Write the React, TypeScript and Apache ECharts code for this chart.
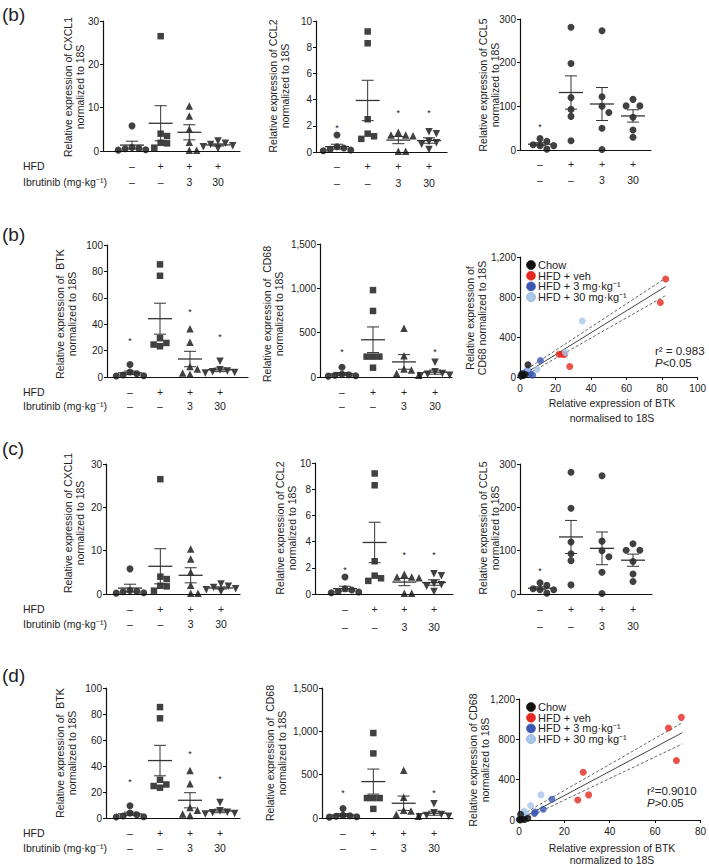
import React, { useEffect, useRef } from "react";
import * as echarts from "echarts";

const FONT = "'Liberation Sans', Arial, Helvetica, sans-serif";
const INK = "#222";

// ---------- category labels ----------
const HFD_ROW = ["–", "+", "+", "+"];
const IBR_ROW = ["–", "–", "3", "30"];

// ---------- dot-plot data (Chow, HFD, HFD+3, HFD+30) ----------
const CXCL1 = [
  [5.8, 0.3, 0.5, 0.8, 0.2, 0.6],
  [26.5, 4.0, 1.9, 3.45, 1.76, 0.77],
  [10.4, 8.1, 5.0, 2.0, 0.2, 0.2],
  [2.3, 1.8, 1.5, 1.2, 1.0, 0.6],
];
const CXCL1_STARS = [null, null, null, null];

const CCL2 = [
  [1.3, 0.4, 0.2, 0.3, 0.1, 0.15],
  [9.2, 8.3, 2.5, 1.4, 1.0, 1.2],
  [1.5, 1.3, 1.25, 1.3, 0.05, 0.05],
  [1.55, 1.4, 0.8, 0.7, 0.6, 0.2],
];
const CCL2_STARS = [1.95, null, 3.1, 3.1];

const CCL5 = [
  [26, 20, 12, 10, 10, 2],
  [281, 198, 120, 93, 77, 21],
  [273, 122, 100, 86, 50, 1],
  [116, 101, 101, 75, 46, 29],
];
const CCL5_STARS = [57, null, null, null];

const BTK = [
  [9.4, 3.8, 2.5, 1.0, 0.8, 1.5],
  [85.3, 76.7, 29.4, 25.8, 24.6, 23.3],
  [36.5, 26.3, 8, 6, 3, 2],
  [12, 5.5, 4.5, 4, 3.5, 3],
];
const BTK_STARS = [29, null, 50.5, 31.5];

const CD68 = [
  [110, 30, 20, 15, 10, 25],
  [980, 745, 230, 230, 230, 105],
  [551, 240, 90, 80, 20, 40],
  [165, 60, 40, 30, 20, 15],
];
const CD68_STARS = [310, null, null, 310];

// ---------- correlation scatter data ([BTK, CD68]) ----------
const SC_NAMES = ["Chow", "HFD + veh", "HFD + 3 mg·kg⁻¹", "HFD + 30 mg·kg⁻¹"];
const SC_COLORS = ["#111111", "#e5281f", "#3a58b3", "#a9c7ea"];

const SC1_CHOW = [[4.5, 122], [0.5, 10], [1.5, 20], [2, 15], [3, 25], [1, 30]];
const SC1_VEH = [[82, 980], [79, 745], [22, 228], [23.5, 228], [25, 225], [28, 105]];
const SC1_LOW = [[11.5, 165], [1.8, 34], [3.2, 50], [4.4, 67], [5.8, 34], [7.1, 17]];
const SC1_HIGH = [[35, 560], [25.5, 245], [9.5, 75], [4.4, 84], [2, 20], [1, 10]];
const SC1_FIT = [[1, 15], [82, 905]];
const SC1_HI = [[1.5, 50], [82, 990]];
const SC1_LO = [[2, 5], [82, 815]];

const SC2_CHOW = [[0.7, 56], [3.9, 17], [0.2, 5], [1.5, 8], [0.5, 0], [2.5, 5]];
const SC2_VEH = [[71.6, 1018], [65.9, 912], [69.4, 590], [28.3, 474], [30.7, 249], [25.9, 199]];
const SC2_LOW = [[14.5, 206], [10.7, 106], [6.8, 66], [7.2, 80], [2.5, 33], [1.8, 20]];
const SC2_HIGH = [[9.7, 249], [5.1, 143], [2.2, 90], [2.8, 66], [0.3, 10], [1.5, 40]];
const SC2_FIT = [[1, 15], [72, 866]];
const SC2_HI = [[1.5, 55], [72, 965]];
const SC2_LO = [[2, 5], [72, 754]];

// ---------- layout ----------
const SYMBOLS = ["circle", "rect", "triangle", "triangle"];
const ALL_CIRCLES = ["circle", "circle", "circle", "circle"];
const SYM_ROT = [0, 0, 0, 180];
const SYM_SIZE = [7, 6.5, 7.5, 7.5];

type Dot = {
  data: number[][]; stars: (number | null)[]; yMax: number; yInt: number; title: string;
  axisX: number; top: number; bottom: number; end: number; g1: number; g4: number;
  lm: number; lh: number; tx: number; ty: number; header?: boolean; circles?: boolean;
};

const DOTS: Dot[] = [
  { data: CXCL1, stars: CXCL1_STARS, yMax: 30, yInt: 10, title: "Relative expression of CXCL1\nnormalized to 18S",
    axisX: 103, top: 21, bottom: 151, end: 240, g1: 132, g4: 218, lm: 7, lh: 16, tx: 74, ty: 87, header: true },
  { data: CCL2, stars: CCL2_STARS, yMax: 10, yInt: 2, title: "Relative expression of CCL2\nnormalized to 18S",
    axisX: 316, top: 21, bottom: 152, end: 447, g1: 337, g4: 429, lm: 5.5, lh: 17, tx: 279, ty: 86 },
  { data: CCL5, stars: CCL5_STARS, yMax: 300, yInt: 100, title: "Relative expression of CCL5\nnormalized to 18S",
    axisX: 520, top: 19, bottom: 150, end: 651, g1: 540, g4: 633, lm: 6, lh: 16, tx: 489, ty: 85, circles: true },
  { data: BTK, stars: BTK_STARS, yMax: 100, yInt: 20, title: "Relative expression of  BTK\nnormalized to 18S",
    axisX: 107, top: 245, bottom: 377, end: 248, g1: 130, g4: 220, lm: 8, lh: 14, tx: 66, ty: 314, header: true },
  { data: CD68, stars: CD68_STARS, yMax: 1500, yInt: 500, title: "Relative expression of  CD68\nnormalized to 18S",
    axisX: 320, top: 244, bottom: 377, end: 452, g1: 342, g4: 435, lm: 8, lh: 14, tx: 273, ty: 314 },
  { data: CXCL1, stars: CXCL1_STARS, yMax: 30, yInt: 10, title: "Relative expression of CXCL1\nnormalized to 18S",
    axisX: 106, top: 464, bottom: 594, end: 240, g1: 130, g4: 221, lm: 7.5, lh: 15, tx: 74, ty: 523, header: true },
  { data: CCL2, stars: CCL2_STARS, yMax: 10, yInt: 2, title: "Relative expression of CCL2\nnormalized to 18S",
    axisX: 315, top: 463, bottom: 594, end: 453, g1: 345, g4: 434, lm: 6, lh: 18, tx: 286, ty: 528 },
  { data: CCL5, stars: CCL5_STARS, yMax: 300, yInt: 100, title: "Relative expression of CCL5\nnormalized to 18S",
    axisX: 520, top: 464, bottom: 594, end: 652, g1: 540, g4: 633, lm: 6.5, lh: 17, tx: 489, ty: 528, circles: true },
  { data: BTK, stars: BTK_STARS, yMax: 100, yInt: 20, title: "Relative expression of  BTK\nnormalized to 18S",
    axisX: 106, top: 688, bottom: 818, end: 240, g1: 130, g4: 220, lm: 7.5, lh: 15, tx: 66, ty: 753, header: true },
  { data: CD68, stars: CD68_STARS, yMax: 1500, yInt: 500, title: "Relative expression of  CD68\nnormalized to 18S",
    axisX: 322, top: 688, bottom: 818, end: 453, g1: 343, g4: 434, lm: 7.5, lh: 15, tx: 276, ty: 753 },
];

type Sc = {
  sets: number[][][]; fit: number[][]; hi: number[][]; lo: number[][];
  left: number; top: number; width: number; height: number; xMax: number;
  yTitle: string; tx: number; ty: number; xTitle: string; xtx: number; xty: number; xlh: number;
  legX: number; legY: number; r2: string; pText: string; annX: number; annY: number;
};

const SCATTERS: Sc[] = [
  { sets: [SC1_CHOW, SC1_VEH, SC1_LOW, SC1_HIGH], fit: SC1_FIT, hi: SC1_HI, lo: SC1_LO,
    left: 520, top: 257, width: 188, height: 120, xMax: 100,
    yTitle: "Relative expression of\nCD68 normalized to 18S", tx: 476, ty: 318,
    xTitle: "Relative expression of BTK\nnormalised to 18S", xtx: 612, xty: 410, xlh: 15,
    legX: 531, legY: 265, r2: "r² = 0.983", pText: "<0.05", annX: 655, annY: 351 },
  { sets: [SC2_CHOW, SC2_VEH, SC2_LOW, SC2_HIGH], fit: SC2_FIT, hi: SC2_HI, lo: SC2_LO,
    left: 519, top: 699, width: 184, height: 121, xMax: 80,
    yTitle: "Relative expression of CD68\nnormalized to 18S", tx: 479, ty: 760,
    xTitle: "Relative expression of BTK\nnormalized to 18S", xtx: 612, xty: 854, xlh: 12.5,
    legX: 531, legY: 707, r2: "r²=0.9010", pText: ">0.05", annX: 647, annY: 791 },
];

const LETTERS = [
  { t: "(b)", y: 14 },
  { t: "(b)", y: 234 },
  { t: "(c)", y: 448 },
  { t: "(d)", y: 675 },
];

const comma = (v: number) => String(v).replace(/\B(?=(\d{3})+(?!\d))/g, ",");

function swarm(vals: number[], pxPerVal: number, unitPx: number, size: number): number[] {
  const order = vals.map((_, i) => i).sort((a, b) => vals[b] - vals[a]);
  const placed: [number, number][] = [];
  const offs = new Array(vals.length).fill(0);
  const step = size * 0.98;
  for (const i of order) {
    const y = vals[i] * pxPerVal;
    for (let k = 0; k < 30; k++) {
      const m = k === 0 ? 0 : k % 2 === 1 ? Math.ceil(k / 2) : -Math.ceil(k / 2);
      const x = m * step;
      if (placed.every(([px, py]) => Math.hypot(px - x, py - y) >= step)) {
        placed.push([x, y]);
        offs[i] = x / unitPx;
        break;
      }
    }
  }
  return offs;
}

function txt(text: string, x: number, y: number, o: any = {}) {
  const align = o.align || "left";
  const va = o.va || "middle";
  return {
    type: "text",
    x, y,
    rotation: o.rotation || 0,
    silent: true,
    style: {
      text,
      fill: INK,
      fontSize: o.fontSize || 10.5,
      fontFamily: FONT,
      fontStyle: o.fontStyle || "normal",
      lineHeight: o.lineHeight,
      align, textAlign: align,
      verticalAlign: va, textVerticalAlign: va,
      rich: o.rich,
    },
  };
}

const errRender = (params: any, api: any) => {
  const g = api.value(0), m = api.value(1), lo = Math.max(0, api.value(2)), hi = api.value(3);
  const pm = api.coord([g, m]), pl = api.coord([g, lo]), ph = api.coord([g, hi]);
  const st = { stroke: "#333", lineWidth: 1 };
  return {
    type: "group",
    children: [
      { type: "line", shape: { x1: pm[0] - 12, y1: pm[1], x2: pm[0] + 12, y2: pm[1] }, style: { stroke: "#333", lineWidth: 1.3 } },
      { type: "line", shape: { x1: pl[0], y1: pl[1], x2: ph[0], y2: ph[1] }, style: st },
      { type: "line", shape: { x1: pl[0] - 6, y1: pl[1], x2: pl[0] + 6, y2: pl[1] }, style: st },
      { type: "line", shape: { x1: ph[0] - 6, y1: ph[1], x2: ph[0] + 6, y2: ph[1] }, style: st },
    ],
  };
};

const starRender = (params: any, api: any) => {
  const p = api.coord([api.value(0), api.value(1)]);
  return {
    type: "text",
    x: p[0], y: p[1] + 2,
    style: { text: "*", fill: INK, fontSize: 9, fontFamily: FONT, align: "center", verticalAlign: "middle", textAlign: "center", textVerticalAlign: "middle" },
  };
};

function buildOption() {
  const grid: any[] = [], xAxis: any[] = [], yAxis: any[] = [], series: any[] = [], graphic: any[] = [];
  const axisLine = { show: true, onZero: false, lineStyle: { color: "#111", width: 1.2 } };

  DOTS.forEach((p, idx) => {
    const unit = (p.g4 - p.g1) / 3;
    const width = p.end - p.axisX;
    const height = p.bottom - p.top;
    const xMin = 1 - (p.g1 - p.axisX) / unit;
    const xMax = xMin + width / unit;
    grid.push({ left: p.axisX, top: p.top, width, height });
    xAxis.push({
      gridIndex: idx, type: "value", min: xMin, max: xMax,
      axisLine, axisTick: { show: false }, splitLine: { show: false },
      axisLabel: {
        customValues: [1, 2, 3, 4],
        formatter: (v: number) => {
          const i = Math.round(v) - 1;
          return `${HFD_ROW[i]}\n${IBR_ROW[i]}`;
        },
        fontSize: 10.5, fontFamily: FONT, color: INK, lineHeight: p.lh, margin: p.lm,
      },
    });
    yAxis.push({
      gridIndex: idx, type: "value", min: 0, max: p.yMax, interval: p.yInt,
      axisLine, axisTick: { show: true, length: 3, lineStyle: { color: "#111", width: 1 } },
      splitLine: { show: false },
      axisLabel: { fontSize: 10, fontFamily: FONT, color: INK, margin: 4, formatter: comma },
    });
    const pxPerVal = height / p.yMax;
    const syms = p.circles ? ALL_CIRCLES : SYMBOLS;
    p.data.forEach((vals, gi) => {
      const size = p.circles ? 7 : SYM_SIZE[gi];
      const offs = swarm(vals, pxPerVal, unit, size);
      series.push({
        type: "scatter", xAxisIndex: idx, yAxisIndex: idx, silent: true, clip: false, z: 3,
        symbol: syms[gi], symbolRotate: p.circles ? 0 : SYM_ROT[gi], symbolSize: size,
        itemStyle: { color: "#111" },
        data: vals.map((v, j) => [gi + 1 + offs[j], v]),
      });
    });
    const stats = p.data.map((vals, gi) => {
      const n = vals.length;
      const m = vals.reduce((a, b) => a + b, 0) / n;
      const sd = Math.sqrt(vals.reduce((a, b) => a + (b - m) ** 2, 0) / (n - 1));
      const se = sd / Math.sqrt(n);
      return [gi + 1, m, m - se, m + se];
    });
    series.push({
      type: "custom", xAxisIndex: idx, yAxisIndex: idx, silent: true, z: 4,
      encode: { x: 0, y: [1, 2, 3] }, data: stats, renderItem: errRender,
    });
    const stars = p.stars.map((v, gi) => (v == null ? null : [gi + 1, v])).filter(Boolean);
    if (stars.length) {
      series.push({
        type: "custom", xAxisIndex: idx, yAxisIndex: idx, silent: true, z: 4,
        encode: { x: 0, y: 1 }, data: stars, renderItem: starRender,
      });
    }
    graphic.push(txt(p.title, p.tx, p.ty, { align: "center", rotation: Math.PI / 2, lineHeight: 12.5, fontSize: 10.5 }));
    if (p.header) {
      const r1 = p.bottom + p.lm + p.lh / 2;
      graphic.push(txt("HFD", 23, r1, { fontSize: 10.5 }));
      graphic.push(txt("Ibrutinib (mg·kg⁻¹)", 23, r1 + p.lh, { fontSize: 10.5 }));
    }
  });

  SCATTERS.forEach((s, k) => {
    const idx = DOTS.length + k;
    grid.push({ left: s.left, top: s.top, width: s.width, height: s.height });
    xAxis.push({
      gridIndex: idx, type: "value", min: 0, max: s.xMax, interval: 20,
      axisLine, axisTick: { show: true, length: 3, lineStyle: { color: "#111" } }, splitLine: { show: false },
      axisLabel: { fontSize: 10, fontFamily: FONT, color: INK, margin: 6, showMaxLabel: true },
    });
    yAxis.push({
      gridIndex: idx, type: "value", min: 0, max: 1200, interval: 400,
      axisLine, axisTick: { show: true, length: 3, lineStyle: { color: "#111" } }, splitLine: { show: false },
      axisLabel: { fontSize: 10, fontFamily: FONT, color: INK, margin: 4, formatter: comma },
    });
    const lineBase = { type: "line", xAxisIndex: idx, yAxisIndex: idx, symbol: "none", silent: true, z: 2 };
    series.push({ ...lineBase, data: s.hi, lineStyle: { color: "#555", width: 0.9, type: [3, 2] } });
    series.push({ ...lineBase, data: s.lo, lineStyle: { color: "#555", width: 0.9, type: [3, 2] } });
    series.push({ ...lineBase, data: s.fit, lineStyle: { color: "#444", width: 1 } });
    s.sets.forEach((set, gi) => {
      series.push({
        type: "scatter", name: SC_NAMES[gi], xAxisIndex: idx, yAxisIndex: idx, silent: true, clip: false,
        symbol: "circle", symbolSize: 7, itemStyle: { color: SC_COLORS[gi] }, z: 3 + (gi === 0 ? 2 : 0),
        data: set,
      });
    });
    graphic.push(txt(s.yTitle, s.tx, s.ty, { align: "center", rotation: Math.PI / 2, lineHeight: 12.5, fontSize: 10.5 }));
    graphic.push(txt(s.xTitle, s.xtx, s.xty, { align: "center", lineHeight: s.xlh, fontSize: 10.5 }));
    SC_NAMES.forEach((name, gi) => {
      const y = s.legY + gi * 10.7;
      graphic.push({
        type: "circle", silent: true, shape: { cx: s.legX, cy: y, r: 4.5 },
        style: { fill: SC_COLORS[gi], stroke: gi === 3 ? "#7f9cc9" : SC_COLORS[gi], lineWidth: 0.6 },
      });
      graphic.push(txt(name, s.legX + 7, y, { fontSize: 11 }));
    });
    graphic.push(txt(s.r2, s.annX, s.annY, { fontSize: 11.5 }));
    graphic.push(txt(`{i|P}${s.pText}`, s.annX, s.annY + 12, {
      fontSize: 11.5,
      rich: { i: { fontStyle: "italic", fontSize: 11.5, fontFamily: FONT, fill: INK, color: INK } },
    }));
  });

  LETTERS.forEach((l) => graphic.push(txt(l.t, 2, l.y, { fontSize: 19 })));

  return {
    animation: false,
    backgroundColor: "#ffffff",
    grid, xAxis, yAxis, series, graphic,
  };
}

export default function App() {
  const ref = useRef<HTMLDivElement>(null);
  useEffect(() => {
    document.body.style.margin = "0";
    const chart = echarts.init(ref.current!, null, { renderer: "svg" });
    chart.setOption(buildOption() as any);
    return () => chart.dispose();
  }, []);
  return <div ref={ref} style={{ width: 709, height: 866 }} />;
}
